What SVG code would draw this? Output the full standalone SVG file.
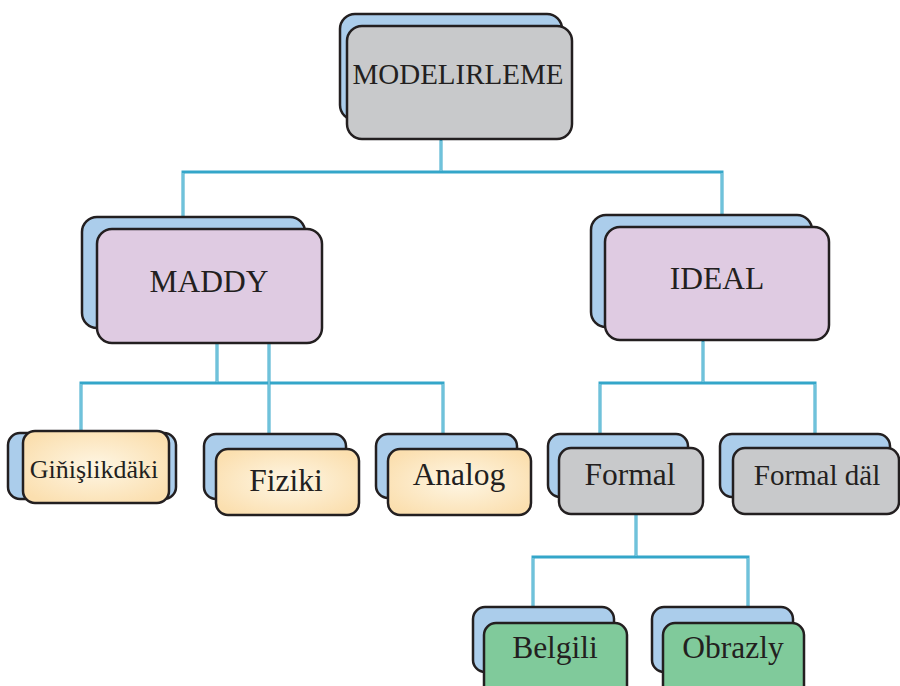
<svg xmlns="http://www.w3.org/2000/svg" width="900" height="686" viewBox="0 0 900 686">
<style>
.back{fill:#abcdeb;stroke:#231f20;stroke-width:2.5}
.box{stroke:#231f20;stroke-width:2.5}
.gray{fill:#c8c9cb}
.purple{fill:#dfcbe2}
.yellow{fill:url(#yg)}
.green{fill:#80ca9b}
.t{font-family:"Liberation Serif","Times New Roman",serif;fill:#231f20;text-anchor:middle;font-size:31.5px}
.c1{fill:none;stroke:#34a6c9;stroke-width:3}
.c2{fill:none;stroke:#b9e4f1;stroke-width:0.9}
</style>
<defs>
<radialGradient id="yg" cx="50%" cy="50%" r="60%">
<stop offset="0" stop-color="#fef6e4"/>
<stop offset="1" stop-color="#fbdfaf"/>
</radialGradient>
</defs>
<rect width="900" height="686" fill="#fff"/>
<g id="connectors">
<path class="c1" d="M441,140V172M183,217V172H722V215M217,343V383M81,433V383H443V434M269,343V434M703,341V383M600,434V383H815V434M636,514V557M533,607V557H748V607"/>
<path class="c2" d="M441,141V171M183,216V173M722,214V173M217,344V382M81,432V384M443,433V384M269,344V433M703,342V382M600,433V384M815,433V384M636,515V556M533,606V558M748,606V558"/>
</g>
<g id="modelirleme">
<rect class="back" x="340" y="14" width="222" height="106" rx="15"/>
<rect class="box gray" x="347" y="26" width="225" height="113" rx="15"/>
<text class="t" x="458" y="84" style="font-size:29px">MODELIRLEME</text>
</g>
<g id="maddy">
<rect class="back" x="82" y="217" width="223" height="111" rx="15"/>
<rect class="box purple" x="97" y="229" width="225" height="114" rx="15"/>
<text class="t" x="209" y="292">MADDY</text>
</g>
<g id="ideal">
<rect class="back" x="591" y="215" width="221" height="112" rx="15"/>
<rect class="box purple" x="605" y="227" width="224" height="113" rx="15"/>
<text class="t" x="717" y="289">IDEAL</text>
</g>
<g id="ginislikdaki">
<rect class="back" x="8" y="433" width="168" height="66" rx="12"/>
<rect class="box yellow" x="23" y="431" width="146" height="72" rx="12"/>
<text class="t" x="94" y="478" style="font-size:26px">Giňişlikdäki</text>
</g>
<g id="fiziki">
<rect class="back" x="204" y="434" width="142" height="65" rx="12"/>
<rect class="box yellow" x="216" y="449" width="143" height="66" rx="12"/>
<text class="t" x="286" y="491">Fiziki</text>
</g>
<g id="analog">
<rect class="back" x="376" y="434" width="141" height="64" rx="12"/>
<rect class="box yellow" x="388" y="449" width="143" height="66" rx="12"/>
<text class="t" x="459" y="485">Analog</text>
</g>
<g id="formal">
<rect class="back" x="548" y="434" width="140" height="63" rx="12"/>
<rect class="box gray" x="559" y="448" width="144" height="66" rx="12"/>
<text class="t" x="630" y="485">Formal</text>
</g>
<g id="formal-dal">
<rect class="back" x="720" y="434" width="170" height="63" rx="12"/>
<rect class="box gray" x="733" y="448" width="166" height="66" rx="12"/>
<text class="t" x="817" y="485" style="font-size:29px">Formal däl</text>
</g>
<g id="belgili">
<rect class="back" x="473" y="607" width="141" height="65" rx="12"/>
<rect class="box green" x="484" y="623" width="143" height="80" rx="12"/>
<text class="t" x="555" y="658">Belgili</text>
</g>
<g id="obrazly">
<rect class="back" x="652" y="607" width="141" height="65" rx="12"/>
<rect class="box green" x="663" y="623" width="141" height="80" rx="12"/>
<text class="t" x="733" y="658">Obrazly</text>
</g>
</svg>
